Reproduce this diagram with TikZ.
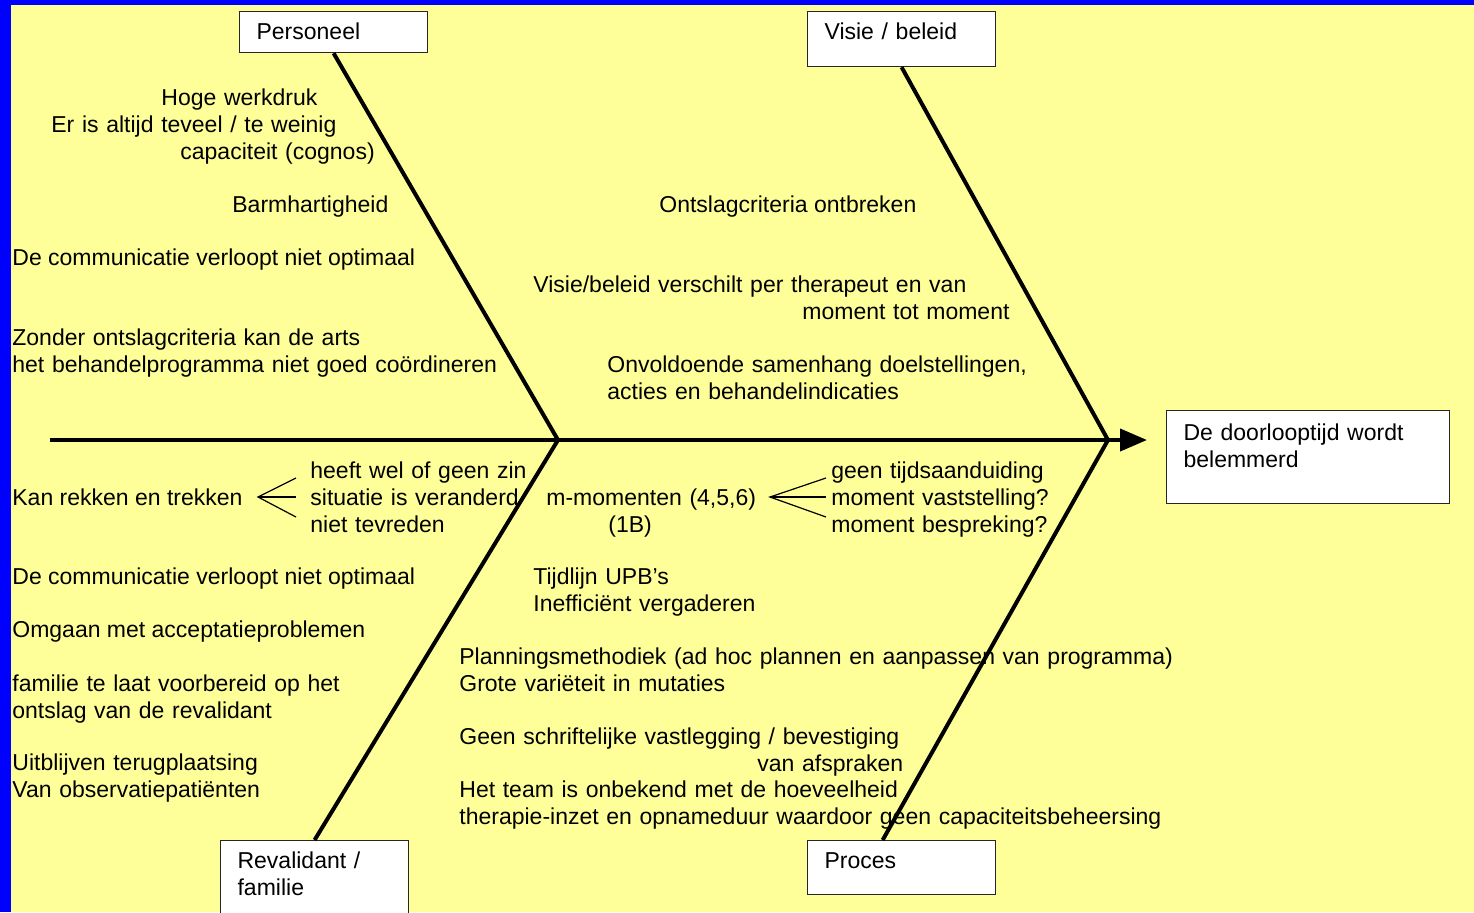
\documentclass[tikz,border=0pt]{standalone}
\usepackage{fontspec}
\setmainfont{Liberation Sans}
\usetikzlibrary{positioning,calc,arrows.meta}
\definecolor{paleyellow}{HTML}{FFFF99}
\definecolor{frameblue}{HTML}{0000FF}

\begin{document}
\begin{tikzpicture}[x=0.5pt, y=-0.5pt,
  mytext/.style={anchor=base west, inner sep=0pt, font=\fontsize{11.5}{13.5}\selectfont},
  mylines/.style={mytext, text width=360pt, align=left},
  mybox/.style={draw=black!85, fill=white, line width=0.6pt, anchor=north west,
    inner xsep=8.5pt, inner ysep=0pt, text width=77pt, align=left,
    text height=14pt, font=\fontsize{11.5}{13.5}\selectfont},
  bone/.style={line width=2pt},
  spine/.style={line width=2pt, -{Triangle[length=13.5pt, width=11pt]}},
  brace/.style={line width=0.6pt}
  ]
  % background
  \useasboundingbox (0,0) rectangle (1474,912);
  \fill[frameblue] (0,0) rectangle (1474,912);
  \fill[paleyellow] (11,5) rectangle (1474,912);

  % main categories
  \node[mybox, text depth=6.5pt] (personeel) at (239,11) {Personeel};
  \node[mybox, text depth=13.5pt] (visie) at (807,11) {Visie / beleid};
  \node[mybox, text depth=26pt] (revalidant) at (220,840) {Revalidant /\\familie};
  \node[mybox, text depth=13pt] (proces) at (807,840) {Proces};
  \node[mybox, text width=124.5pt, text height=15pt, text depth=31.5pt] (effect) at (1166,410)
    {De doorlooptijd wordt\\belemmerd};

  % spine and bones
  \coordinate (tail) at (50,440);
  \coordinate (tip) at (1147,440);
  \coordinate (jointL) at (558,440);
  \coordinate (jointR) at (1108,440);
  \draw[spine] (tail) -- (tip);
  \draw[bone] (personeel.south) -- (jointL);
  \draw[bone] (revalidant.north) -- (jointL);
  \draw[bone] (visie.south) -- (jointR);
  \draw[bone] ($(proces.north west)!0.4!(proces.north east)$) -- (jointR);

  % personeel
  \node[mylines] (werkdruk) at (51,105)
    {\hspace*{55pt}Hoge werkdruk\\Er is altijd teveel / te weinig\\\hspace*{64.5pt}capaciteit (cognos)};
  \node[mytext] (barm) at (232,212) {Barmhartigheid};
  \node[mytext] (commA) at (12,265) {De communicatie verloopt niet optimaal};
  \node[mylines] (zonder) at (12,345)
    {Zonder ontslagcriteria kan de arts\\het behandelprogramma niet goed coördineren};

  % visie / beleid
  \node[mytext] (criteria) at (659,212) {Ontslagcriteria ontbreken};
  \node[mylines] (verschil) at (533,292)
    {Visie/beleid verschilt per therapeut en van\\\hspace*{134.5pt}moment tot moment};
  \node[mylines] (samenhang) at (607,372)
    {Onvoldoende samenhang doelstellingen,\\acties en behandelindicaties};

  % revalidant / familie
  \node[mytext] (rekken) at (12,505) {Kan rekken en trekken};
  \node[mylines] (zin) at (310,478)
    {heeft wel of geen zin\\situatie is veranderd\\niet tevreden};
  \coordinate (vL) at (258,497);
  \draw[brace] (296,478) -- (vL) -- (296,517);
  \draw[brace] (vL) -- (296,497);
  \node[mytext] (commB) at (12,584) {De communicatie verloopt niet optimaal};
  \node[mytext] (acceptatie) at (12,637) {Omgaan met acceptatieproblemen};
  \node[mylines] (voorbereid) at (12,691)
    {familie te laat voorbereid op het\\ontslag van de revalidant};
  \node[mylines] (terug) at (12,770)
    {Uitblijven terugplaatsing\\Van observatiepatiënten};

  % proces
  \node[mylines] (mmom) at (546,505) {m-momenten (4,5,6)\\\hspace*{31pt}(1B)};
  \node[mylines] (tijd) at (831,478)
    {geen tijdsaanduiding\\moment vaststelling?\\moment bespreking?};
  \coordinate (vR) at (770,497);
  \draw[brace] (826,478) -- (vR) -- (826,517);
  \draw[brace] (vR) -- (826,497);
  \node[mylines] (upb) at (533,584) {Tijdlijn UPB’s\\Inefficiënt vergaderen};
  \node[mylines] (planning) at (459,664)
    {Planningsmethodiek (ad hoc plannen en aanpassen van programma)\\Grote variëteit in mutaties};
  \node[mylines] (vastlegging) at (459,744)
    {Geen schriftelijke vastlegging / bevestiging\\\hspace*{149pt}van afspraken};
  \node[mylines] (team) at (459,797)
    {Het team is onbekend met de hoeveelheid\\therapie-inzet en opnameduur waardoor geen capaciteitsbeheersing};
\end{tikzpicture}
\end{document}
